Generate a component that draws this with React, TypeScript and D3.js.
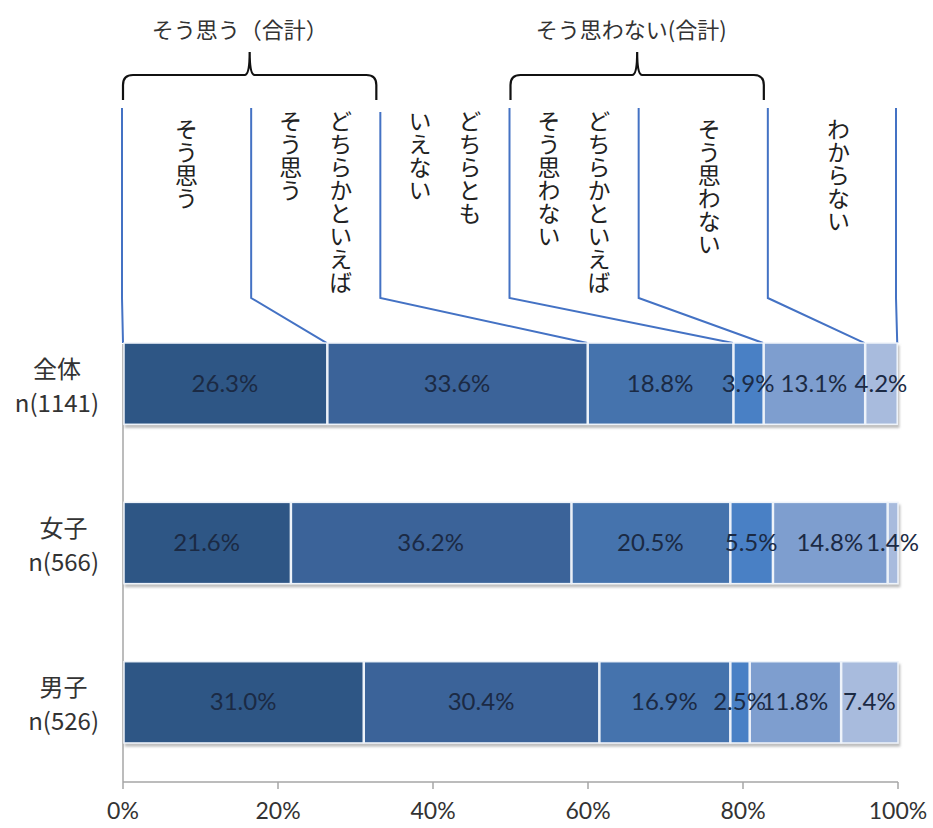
import React from "react";
import * as d3 from "d3";

const categories = ["全体", "女子", "男子"];
const sampleSizes = ["n(1141)", "n(566)", "n(526)"];
const responseLabels = [
  ["そう思う"],
  ["どちらかといえば", "そう思う"],
  ["どちらとも", "いえない"],
  ["どちらかといえば", "そう思わない"],
  ["そう思わない"],
  ["わからない"],
];
const seriesAll = [26.3, 33.6, 18.8, 3.9, 13.1, 4.2];
const seriesFemale = [21.6, 36.2, 20.5, 5.5, 14.8, 1.4];
const seriesMale = [31.0, 30.4, 16.9, 2.5, 11.8, 7.4];
const groupLabels = ["そう思う（合計）", "そう思わない(合計)"];
const groupSpans = [
  [0, 1],
  [3, 4],
];
const tickValues = [0, 20, 40, 60, 80, 100];
const segColors = ["#2f5685", "#3a6399", "#4573ad", "#4a80c5", "#7e9ecf", "#a8bbdd"];

const W = 933;
const H = 828;

function measure(text: string, font: string): number {
  const c = document.createElement("canvas");
  const ctx = c.getContext("2d");
  if (!ctx) return text.length * 12;
  ctx.font = font;
  return ctx.measureText(text).width;
}

export default function App() {
  const seriesByCat = [seriesAll, seriesFemale, seriesMale];
  const x = d3.scaleLinear().domain([0, 100]).range([123, 898]);
  const y = d3
    .scaleBand<string>()
    .domain(categories)
    .range([304, 782])
    .paddingInner(0.49)
    .paddingOuter(0.245);
  const colBand = d3
    .scaleBand<number>()
    .domain(d3.range(responseLabels.length))
    .range([122, 897])
    .paddingInner(0);

  const stacks = seriesByCat.map((vals) => {
    let acc = 0;
    return vals.map((v) => {
      const s = acc;
      acc += v;
      return [s, acc];
    });
  });

  const dividers = d3.range(responseLabels.length + 1).map((i) =>
    i < responseLabels.length ? (colBand(i) as number) : colBand.range()[1] - 1
  );
  const cumAll = [0, ...stacks[0].map((s) => s[1])];

  const labelFont = "24px 'Noto Sans CJK JP'";
  const pctFont = "Lato, 'Open Sans', sans-serif";
  const jpFont = "'Noto Sans CJK JP', sans-serif";

  return (
    <svg
      width={W}
      height={H}
      style={{ position: "absolute", left: 0, top: 0, background: "#fff" }}
    >
      <defs>
        <filter id="sh" x="-5%" y="-10%" width="110%" height="130%">
          <feDropShadow dx="1.5" dy="3" stdDeviation="1.2" floodColor="#8a8a8a" floodOpacity="0.55" />
        </filter>
      </defs>

      {/* group headers with brackets */}
      {groupSpans.map(([a, b], gi) => {
        const x0 = dividers[a] + 1;
        const x1 = dividers[b + 1] - 4;
        const cx = (x0 + x1) / 2;
        const p = `M${x0},100 L${x0},85 Q${x0},75 ${x0 + 10},75 L${cx - 5},75 Q${cx},75 ${cx},52 Q${cx},75 ${cx + 5},75 L${x1 - 10},75 Q${x1},75 ${x1},85 L${x1},100`;
        return (
          <g key={"g" + gi}>
            <path d={p} fill="none" stroke="#111" strokeWidth={2.2} />
            <text
              x={cx - (gi === 0 ? 10 : 6)}
              y={38}
              textAnchor="middle"
              fontFamily={jpFont}
              fontSize={22}
              fill="#333"
            >
              {groupLabels[gi]}
            </text>
          </g>
        );
      })}

      {/* vertical response labels */}
      {responseLabels.map((lines, i) => {
        const cx = (colBand(i) as number) + colBand.bandwidth() / 2;
        const offs = lines.length === 1 ? [i > 3 ? 6 : 0] : [25, -25];
        return lines.map((ln, j) => (
          <text
            key={"r" + i + "-" + j}
            x={cx + offs[j]}
            y={lines.length === 1 ? 118 : 110}
            fontFamily={jpFont}
            fontSize={23}
            fill="#222"
            style={{ writingMode: "vertical-rl", textOrientation: "upright" } as any}
          >
            {ln}
          </text>
        ));
      })}

      {/* leader lines */}
      {dividers.map((dx, i) => {
        const tx = x(Math.min(cumAll[i], 100));
        const top = i === 2 ? 112 : 108;
        return (
          <polyline
            key={"l" + i}
            points={`${dx},${top} ${dx},298 ${tx},${y(categories[0])}`}
            fill="none"
            stroke="#4472c4"
            strokeWidth={2}
          />
        );
      })}

      {/* axes */}
      <line x1={123} x2={123} y1={y.range()[0] + 40} y2={y.range()[1]} stroke="#a6a6a6" strokeWidth={1.5} />
      <line x1={x(0)} x2={x(100)} y1={y.range()[1]} y2={y.range()[1]} stroke="#a6a6a6" strokeWidth={1.5} />
      {tickValues.map((t) => (
        <g key={"t" + t}>
          <line x1={x(t)} x2={x(t)} y1={y.range()[1]} y2={y.range()[1] + 7} stroke="#a6a6a6" strokeWidth={1.5} />
          <text x={x(t)} y={819} textAnchor="middle" fontFamily={pctFont} fontSize={23} fill="#333">
            {t}%
          </text>
        </g>
      ))}

      {/* bars */}
      {categories.map((cat, ci) => {
        const by = y(cat) as number;
        const bh = y.bandwidth();
        return (
          <g key={"b" + ci}>
            <g filter="url(#sh)">
              {stacks[ci].map(([s, e], si) => (
                <rect
                  key={si}
                  x={x(s) + 1}
                  y={by}
                  width={Math.max(0, x(e) - x(s) - 1)}
                  height={bh}
                  fill={segColors[si]}
                  stroke="#eef3fa"
                  strokeWidth={1.5}
                />
              ))}
            </g>
            {stacks[ci].map(([s, e], si) => (
              <text
                key={"p" + si}
                x={x((s + e) / 2)}
                y={by + bh / 2 + 8}
                textAnchor="middle"
                fontFamily={pctFont}
                fontSize={24}
                fill="#1b2a44"
              >
                {seriesByCat[ci][si].toFixed(1)}%
              </text>
            ))}
            {(() => {
              const nw = measure(sampleSizes[ci], labelFont);
              const cx = 99 - nw / 2;
              const cy = by + bh / 2;
              return (
                <g>
                  <text x={cx} y={cy - 6} textAnchor="middle" fontFamily={jpFont} fontSize={24} fill="#333">
                    {cat}
                  </text>
                  <text x={cx} y={cy + 28} textAnchor="middle" fontFamily={jpFont} fontSize={24} fill="#333">
                    {sampleSizes[ci]}
                  </text>
                </g>
              );
            })()}
          </g>
        );
      })}
    </svg>
  );
}
